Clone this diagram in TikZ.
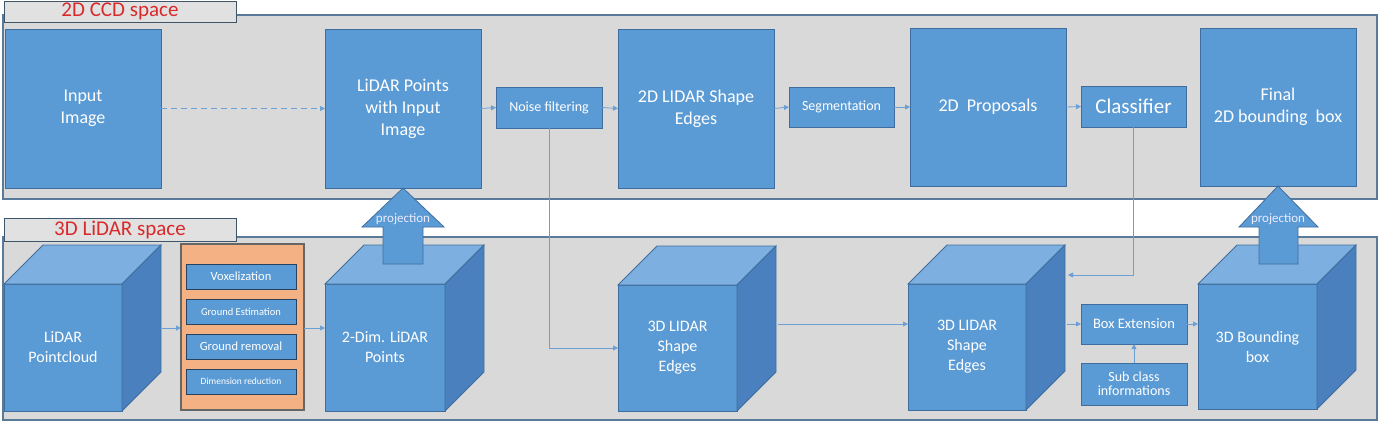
\documentclass[tikz,border=0pt]{standalone}
\usepackage{fontspec}
\setmainfont{Carlito}
\usetikzlibrary{arrows.meta}
\definecolor{boxblue}{HTML}{5B9BD5}
\definecolor{boxedge}{HTML}{3F6E9E}
\definecolor{cubetop}{HTML}{7DB0E0}
\definecolor{cubeside}{HTML}{4A80BE}
\definecolor{panelfill}{HTML}{D9D9D9}
\definecolor{paneledge}{HTML}{5A7A9A}
\definecolor{orangefill}{HTML}{F4B183}
\definecolor{labelred}{HTML}{D8292B}
\definecolor{linkblue}{HTML}{6C9FD4}
\newcommand\fsz[2]{\fontsize{#1}{#2}\selectfont}
\newcommand\cubesides[1]{%
  \filldraw[fill=cubetop,draw=boxedge,line width=0.8pt] (#1.north west) -- ++(39,-39) -- ([shift={(39,-39)}]#1.north east) -- (#1.north east) -- cycle;
  \filldraw[fill=cubeside,draw=boxedge,line width=0.8pt] (#1.north east) -- ++(39,-39) -- ([shift={(39,-39)}]#1.south east) -- (#1.south east) -- cycle;}
\tikzset{
  panel/.style={draw=paneledge, fill=panelfill, line width=1.2pt},
  spacelabel/.style={draw=paneledge!70!black, fill=panelfill!80!white, line width=1pt, text=labelred, inner sep=0pt, outer sep=0pt, minimum width=232, font=\fsz{21}{24}},
  bigbox/.style={draw=boxedge, fill=boxblue, line width=1pt, text=white, align=center, inner sep=0pt, outer sep=0pt, minimum width=156, minimum height=159, font=\fsz{18}{22}},
  smallbox/.style={draw=boxedge, fill=boxblue, line width=1pt, text=white, align=center, inner sep=0pt, outer sep=0pt, minimum width=106, minimum height=41, font=\fsz{14}{15}},
  prepbox/.style={draw=boxedge!60!black, fill=boxblue, line width=1pt, text=white, align=center, inner sep=0pt, outer sep=0pt, minimum width=110, minimum height=25},
  cubefront/.style={draw=boxedge, fill=boxblue, line width=0.8pt, text=white, align=center, inner sep=0pt, outer sep=0pt, minimum height=127, font=\fsz{16}{20}},
  link/.style={draw=linkblue, line width=0.8pt, -{Triangle[length=5pt,width=5pt]}},
  projarrow/.style={fill=boxblue, draw=boxedge, line width=0.8pt},
  projtext/.style={text=white!92!blue, font=\fsz{13}{14}, inner sep=0pt}
}
\begin{document}
\begin{tikzpicture}[x=1pt,y=-1pt]
\useasboundingbox (0,0) rectangle (1381,424);
% panels
\draw[panel] (3,15) rectangle (1377,199);
\draw[panel] (3,237) rectangle (1377,420);
\node[spacelabel, minimum height=21] (lab2d) at (120,11.5) {2D CCD space};
\node[spacelabel, minimum height=23] (lab3d) at (120,229.5) {3D LiDAR space};
% 2D row
\node[bigbox] (in) at (83,108.5) {Input\\Image};
\node[bigbox] (lp) at (403,108.5) {LiDAR Points\\with Input\\Image};
\node[smallbox] (nf) at (549,107.5) {Noise filtering};
\node[bigbox] (e2d) at (696,108.5) {2D LIDAR Shape\\Edges};
\node[smallbox, minimum width=105, minimum height=40] (seg) at (841.5,107) {Segmentation};
\node[bigbox, minimum height=158] (prop) at (988,107) {2D\ \ Proposals};
\node[smallbox, minimum width=105, font=\fsz{21}{24}] (cls) at (1133.5,106.5) {Classifier};
\node[bigbox, minimum height=158] (fin) at (1278,107) {Final\\2D bounding\ \ box};
% 3D row
\node[cubefront, minimum width=118] (c1) at (63,347.5) {LiDAR\\Pointcloud};
\cubesides{c1}
\node[draw=black!60, fill=orangefill, line width=1.2pt, minimum width=123, minimum height=166, inner sep=0pt, outer sep=0pt] (prep) at (242.5,327) {};
\node[prepbox, font=\fsz{12.5}{13}] (vox) at (241,276.5) {Voxelization};
\node[prepbox, font=\fsz{10.5}{11}] (gest) at (241,311.5) {Ground Estimation};
\node[prepbox, font=\fsz{12.5}{13}] (grem) at (241,346.5) {Ground removal};
\node[prepbox, font=\fsz{9.5}{10}] (dimr) at (241,381.5) {Dimension reduction};
\node[cubefront, minimum width=120] (c2) at (385,347.5) {2-Dim. LiDAR\\Points};
\cubesides{c2}
\node[cubefront, minimum width=119, minimum height=126] (c3) at (677.5,348) {3D LIDAR\\Shape\\Edges};
\cubesides{c3}
\node[cubefront, minimum width=118, minimum height=126] (c4) at (967,347) {3D LIDAR\\Shape\\Edges};
\cubesides{c4}
\node[smallbox, minimum height=40, font=\fsz{14.5}{15}] (bx) at (1134,324) {Box Extension};
\node[smallbox, minimum height=42, font=\fsz{14}{14}] (sub) at (1134,384) {Sub class\\informations};
\node[cubefront, minimum width=119, minimum height=125] (c5) at (1257.5,346.5) {3D Bounding\\box};
\cubesides{c5}
% projection arrows
\draw[projarrow] (lp.south) -- ++(41,39) -- ++(-21,0) -- ++(0,37) -- ++(-40,0) -- ++(0,-37) -- ++(-21,0) -- cycle;
\node[projtext] (pj1) at ([shift={(0,31)}]lp.south) {projection};
\draw[projarrow] (fin.south) -- ++(40,41) -- ++(-20,0) -- ++(0,37) -- ++(-39,0) -- ++(0,-37) -- ++(-20,0) -- cycle;
\node[projtext] (pj2) at ([shift={(0,33)}]fin.south) {projection};
% connectors
\draw[link, dashed, dash pattern=on 6pt off 4pt] (in.east) -- (lp.west);
\draw[link] (lp.east) -- (nf.west);
\draw[link] (nf.east) -- (e2d.west);
\draw[link] (e2d.east) -- (seg.west);
\draw[link] (seg.east) -- (prop.west);
\draw[link] (prop.east) -- (cls.west);
\draw[link] (nf.south) |- (c3.west);
\coordinate (c3out) at (778,324);
\draw[link] (c3out) -- (c3out -| c4.west);
\coordinate (c4in) at (1068,275);
\draw[link] (cls.south) |- (c4in);
\coordinate (c4out) at (1067,324);
\draw[link] (c4out) -- (bx.west);
\draw[link] (bx.east) -- (bx.east -| c5.west);
\draw[link] (sub.north) -- (bx.south);
\coordinate (c1out) at (162,328);
\draw[link] (c1out) -- (c1out -| prep.west);
\draw[link] (prep.east |- c1out) -- (c1out -| c2.west);
\end{tikzpicture}
\end{document}
